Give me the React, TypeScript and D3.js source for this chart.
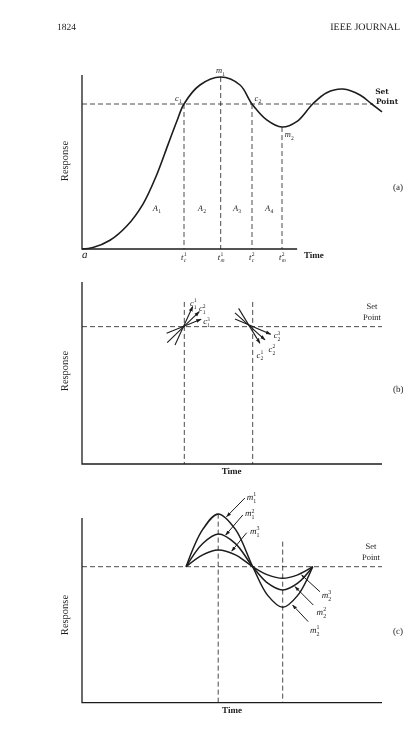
import React from "react";
import * as d3 from "d3";

// ---------- data ----------
const timeDomain = [0, 100];
// panel (a) response curve
const aTime = [0, 3.67, 9.33, 15, 20.33, 24.67, 28.67, 31.67, 34, 39.33, 46.23, 52.67, 56.67, 61.57, 66.67, 71.57, 76.9, 81.57, 87, 92.67, 96.57, 100];
const aResp = [0, 0.01, 0.06, 0.16, 0.31, 0.5, 0.72, 0.885, 1, 1.131, 1.186, 1.131, 1, 0.89, 0.841, 0.878, 1, 1.078, 1.103, 1.062, 1, 0.945];
const aMarkT = [34, 46.23, 56.67, 66.67];
const aMarkR = [1, 1.186, 1, 0.841];
const aMarkBase = ["t", "t", "t", "t"];
const aMarkSub = ["c", "m", "c", "m"];
const aMarkSup = ["1", "1", "2", "2"];
const aAreaT = [23.6, 38.6, 50.3, 61];
const aAreaSub = ["1", "2", "3", "4"];
const aPointLabelT = [31, 44.7, 57.5, 67.6];
const aPointLabelR = [1.024, 1.214, 1.024, 0.772];
const aPointSub = ["1", "1", "2", "2"];
const aPointBase = ["c", "m", "c", "m"];

// panel (b) slope lines through crossing points [tail t, tail r, tip t, tip r]
const bLineT0 = [31, 28.4, 28.2, 52.2, 51, 51];
const bLineR0 = [0.867, 0.883, 0.952, 1.133, 1.1, 1.056];
const bLineT1 = [36.9, 39.1, 39.7, 59.3, 61, 62.9];
const bLineR1 = [1.146, 1.109, 1.054, 0.879, 0.903, 0.945];
const bLabelT = [36.0, 39.0, 40.4, 58.2, 62.2, 63.9];
const bLabelR = [1.15, 1.112, 1.018, 0.775, 0.815, 0.915];
const bLabelSub = ["1", "1", "1", "2", "2", "2"];
const bLabelSup = ["1", "2", "3", "1", "2", "3"];
const bVertT = [34.1, 56.9];
const bVertTop = 1.18;

// panel (c) family of oscillations
const cTime = [34.7, 40.25, 45.4, 51.15, 56.9, 61.9, 66.9, 71.9, 76.9];
const cResp1 = [1, 1.274, 1.3875, 1.274, 1, 0.789, 0.701, 0.789, 1];
const cResp2 = [1, 1.17, 1.24, 1.17, 1, 0.879, 0.829, 0.879, 1];
const cResp3 = [1, 1.087, 1.123, 1.087, 1, 0.94, 0.915, 0.94, 1];
const cVertT = [45.4, 66.9];
const cVertTop = [1.39, 1.184];
const cArrowT0 = [54.3, 53.6, 54.9, 79.3, 77.1, 75.4];
const cArrowR0 = [1.505, 1.38, 1.25, 0.816, 0.718, 0.596];
const cArrowT1 = [48.2, 47.9, 49.9, 73.2, 71, 70.2];
const cArrowR1 = [1.368, 1.233, 1.115, 0.939, 0.853, 0.718];
const cLabelT = [54.9, 54.3, 56, 79.9, 78.2, 76];
const cLabelR = [1.49, 1.37, 1.24, 0.77, 0.645, 0.512];
const cLabelSub = ["1", "1", "1", "2", "2", "2"];
const cLabelSup = ["1", "2", "3", "3", "2", "1"];

// ---------- layout ----------
const W = 403;
const H = 733;
const INK = "#1c1c1c";
const FONT = "'Liberation Serif', 'Times New Roman', serif";

const x = d3.scaleLinear().domain(timeDomain).range([82, 382]);
const yA = d3.scaleLinear().domain([0, 1.2]).range([249, 75]);
const yB = d3.scaleLinear().domain([0, 1.325]).range([464, 282]);
const yC = d3.scaleLinear().domain([0, 1.358]).range([702.7, 518]);

function Sym(props: { x: number; y: number; base: string; sub?: string; sup?: string; size?: number; bw?: number }) {
  const size = props.size ?? 9;
  const w = props.bw ?? size * 0.45;
  return (
    <g fill={INK} fontFamily={FONT}>
      <text x={props.x} y={props.y} fontStyle="italic" fontSize={size}>{props.base}</text>
      {props.sup && (
        <text x={props.x + w} y={props.y - size * 0.42} fontSize={size * 0.66}>{props.sup}</text>
      )}
      {props.sub && (
        <text x={props.x + w} y={props.y + size * 0.3} fontSize={size * 0.66} fontStyle={isNaN(+props.sub) ? "italic" : "normal"}>{props.sub}</text>
      )}
    </g>
  );
}

function lineOf(ts: number[], rs: number[], y: d3.ScaleLinear<number, number>) {
  const gen = d3
    .line<number>()
    .x((_, i) => x(ts[i]))
    .y((r) => y(r))
    .curve(d3.curveCatmullRom.alpha(0.5));
  return gen(rs) || "";
}

function Axes(props: { y: d3.ScaleLinear<number, number>; end: number }) {
  const y = props.y;
  const top = y.domain()[1];
  return (
    <path
      d={`M${x(0)},${y(top)}V${y(0)}H${x(props.end)}`}
      fill="none"
      stroke={INK}
      strokeWidth={1.3}
    />
  );
}

function Response(props: { cy: number }) {
  return (
    <text
      transform={`translate(67.5,${props.cy}) rotate(-90)`}
      textAnchor="middle"
      fontSize={10.5}
      fontFamily={FONT}
      fill={INK}
    >
      Response
    </text>
  );
}

const dash = { stroke: INK, strokeWidth: 0.8, strokeDasharray: "5 3", fill: "none" };

export default function App() {
  const aPath = lineOf(aTime, aResp, yA);
  const cPaths = [cResp1, cResp2, cResp3].map((r) => lineOf(cTime, r, yC));
  return (
    <div style={{ position: "absolute", left: 0, top: 0 }}>
      <svg width={W} height={H} viewBox={`0 0 ${W} ${H}`} style={{ display: "block", background: "#fff" }} textRendering="geometricPrecision">
        <defs>
          <marker id="ah" viewBox="0 0 10 10" refX="9" refY="5" markerWidth="5" markerHeight="5" orient="auto">
            <path d="M0,1.5L10,5L0,8.5z" fill={INK} />
          </marker>
        </defs>

        {/* ---------- panel (a) marks ---------- */}
        <path d={`M${x(0)},${yA(1)}H${x(97)}`} {...dash} />
        {aMarkT.map((t, i) => (
          <path key={"av" + i} d={`M${x(t)},${yA(aMarkR[i])}V${yA(0)}`} {...dash} />
        ))}
        <Axes y={yA} end={71.7} />
        <path d={aPath} fill="none" stroke={INK} strokeWidth={1.6} />

        {/* ---------- panel (b) marks ---------- */}
        <path d={`M${x(0)},${yB(1)}H${x(100)}`} {...dash} />
        {bVertT.map((t, i) => (
          <path key={"bv" + i} d={`M${x(t)},${yB(bVertTop)}V${yB(0)}`} {...dash} />
        ))}
        <Axes y={yB} end={100} />
        {bLineT0.map((t, i) => (
          <line
            key={"bl" + i}
            x1={x(t)}
            y1={yB(bLineR0[i])}
            x2={x(bLineT1[i])}
            y2={yB(bLineR1[i])}
            stroke={INK}
            strokeWidth={1.1}
            markerEnd="url(#ah)"
          />
        ))}

        {/* ---------- panel (c) marks ---------- */}
        <path d={`M${x(0)},${yC(1)}H${x(100)}`} {...dash} />
        {cVertT.map((t, i) => (
          <path key={"cv" + i} d={`M${x(t)},${yC(cVertTop[i])}V${yC(0)}`} {...dash} />
        ))}
        <Axes y={yC} end={100} />
        {cPaths.map((p, i) => (
          <path key={"cp" + i} d={p} fill="none" stroke={INK} strokeWidth={1.5} />
        ))}
        {cArrowT0.map((t, i) => (
          <line
            key={"ca" + i}
            x1={x(t)}
            y1={yC(cArrowR0[i])}
            x2={x(cArrowT1[i])}
            y2={yC(cArrowR1[i])}
            stroke={INK}
            strokeWidth={1}
            markerEnd="url(#ah)"
          />
        ))}

        {/* ---------- all text (grayscale group) ---------- */}
        <g opacity={0.999}>
          <text x={57} y={30} fontSize={9.5} fontFamily={FONT} fill={INK}>1824</text>
          <text x={400} y={30} fontSize={10} fontFamily={FONT} fill={INK} textAnchor="end">IEEE JOURNAL</text>

          {aPointBase.map((b, i) => (
            <Sym key={"ap" + i} x={x(aPointLabelT[i])} y={yA(aPointLabelR[i])} base={b} sub={aPointSub[i]} size={8.5} bw={b === "m" ? 6.2 : 3.9} />
          ))}
          {aAreaSub.map((s, i) => (
            <Sym key={"aa" + i} x={x(aAreaT[i])} y={yA(0.263)} base="A" sub={s} size={8.5} bw={5.4} />
          ))}
          {aMarkT.map((t, i) => (
            <Sym key={"at" + i} x={x(t) - 3} y={yA(0) + 10.5} base={aMarkBase[i]} sub={aMarkSub[i]} sup={aMarkSup[i]} size={8.5} bw={2.8} />
          ))}
          <text x={x(0)} y={257.5} fontSize={11} fontStyle="italic" fontFamily={FONT} fill={INK}>a</text>
          <text x={304} y={258} fontSize={9} fontWeight="bold" fontFamily={FONT} fill={INK}>Time</text>
          <text x={382} y={94} fontSize={7.5} fontWeight="bold" fontFamily="'DejaVu Serif', serif" fill={INK} textAnchor="middle">Set</text>
          <text x={387} y={103.5} fontSize={7.5} fontWeight="bold" fontFamily="'DejaVu Serif', serif" fill={INK} textAnchor="middle">Point</text>
          <text x={393} y={190} fontSize={9} fontFamily={FONT} fill={INK}>(a)</text>
          <Response cy={161} />

          {bLabelT.map((t, i) => (
            <Sym key={"bt" + i} x={x(t)} y={yB(bLabelR[i])} base="c" sub={bLabelSub[i]} sup={bLabelSup[i]} size={8.5} bw={3.8} />
          ))}
          <text x={231.7} y={474} fontSize={9} fontWeight="bold" fontFamily={FONT} fill={INK} textAnchor="middle">Time</text>
          <text x={372} y={309} fontSize={8.5} fontFamily={FONT} fill={INK} textAnchor="middle">Set</text>
          <text x={372} y={320} fontSize={8.5} fontFamily={FONT} fill={INK} textAnchor="middle">Point</text>
          <text x={393} y={392} fontSize={9} fontFamily={FONT} fill={INK}>(b)</text>
          <Response cy={371} />

          {cLabelT.map((t, i) => (
            <Sym key={"ct" + i} x={x(t)} y={yC(cLabelR[i])} base="m" sub={cLabelSub[i]} sup={cLabelSup[i]} size={9} bw={6.6} />
          ))}
          <text x={232} y={713} fontSize={9} fontWeight="bold" fontFamily={FONT} fill={INK} textAnchor="middle">Time</text>
          <text x={371} y={548.5} fontSize={8.5} fontFamily={FONT} fill={INK} textAnchor="middle">Set</text>
          <text x={371} y={560} fontSize={8.5} fontFamily={FONT} fill={INK} textAnchor="middle">Point</text>
          <text x={393} y={634} fontSize={9} fontFamily={FONT} fill={INK}>(c)</text>
          <Response cy={615} />
        </g>
      </svg>
    </div>
  );
}
